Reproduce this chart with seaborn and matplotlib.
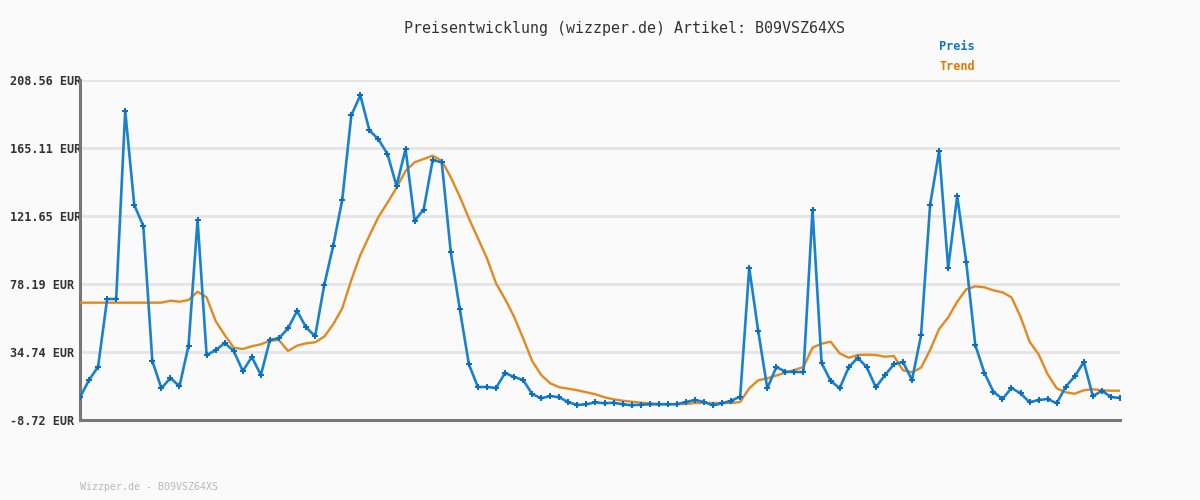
import numpy as np
import pandas as pd
import matplotlib
matplotlib.use("Agg")
import matplotlib.pyplot as plt
import seaborn as sns

title = "Preisentwicklung (wizzper.de) Artikel: B09VSZ64XS"
footer = "Wizzper.de - B09VSZ64XS"
series_names = ["Preis", "Trend"]
y_ticks = [-8.72, 34.74, 78.19, 121.65, 165.11, 208.56]

preis = [5.78, 16.84, 25.34, 68.61, 68.61, 188.75, 128.68, 115.26, 28.98, 11.54,
         18.12, 12.82, 38.76, 119.09, 32.82, 35.82, 40.49, 35.37, 22.59, 31.54,
         20.04, 42.40, 43.49, 49.88, 60.94, 50.52, 44.77, 77.36, 102.67, 132.07,
         186.00, 198.78, 176.42, 170.66, 161.27, 140.82, 164.46, 118.64, 125.80, 157.44,
         155.97, 98.45, 62.02, 26.88, 12.37, 12.37, 11.73, 21.32, 18.76, 16.84,
         7.89, 5.15, 6.62, 5.78, 2.59, 0.87, 1.31, 2.59, 1.95, 2.34,
         1.31, 0.67, 1.06, 1.31, 1.31, 1.31, 1.31, 2.78, 4.06, 2.78,
         0.67, 1.95, 3.61, 6.17, 88.42, 47.96, 11.54, 25.15, 22.15, 21.95,
         21.95, 125.48, 27.71, 16.39, 11.54, 24.96, 31.09, 24.96, 12.18, 19.85,
         26.88, 28.35, 16.84, 45.41, 128.68, 163.19, 88.42, 134.43, 92.06, 39.21,
         21.51, 9.37, 4.70, 11.73, 8.34, 2.59, 4.06, 4.70, 1.95, 12.56,
         19.21, 28.35, 6.43, 10.00, 5.98, 5.34]

trend = [66.26, 66.26, 66.26, 66.26, 66.26, 66.26, 66.26, 66.26, 66.26, 66.26,
         67.52, 66.88, 67.97, 73.27, 69.69, 54.55, 45.59, 37.49, 36.65, 38.40,
         39.66, 41.96, 42.40, 35.37, 38.76, 40.29, 40.94, 44.52, 52.44, 62.66,
         80.75, 96.72, 109.06, 121.06, 130.15, 139.74, 150.41, 155.97, 158.07, 160.18,
         157.00, 146.38, 134.00, 120.18, 107.40, 94.62, 78.64, 68.61, 57.29, 43.49,
         28.98, 20.04, 14.73, 12.18, 11.29, 10.27, 8.99, 7.70, 5.78, 4.50,
         3.61, 2.97, 2.34, 1.95, 1.50, 1.50, 1.50, 1.50, 2.14, 2.14,
         2.14, 2.14, 2.14, 2.78, 11.54, 16.65, 17.93, 19.70, 21.51, 23.23,
         25.15, 37.49, 40.04, 41.32, 33.90, 31.09, 32.82, 33.01, 32.82, 31.73,
         32.18, 23.04, 21.76, 24.70, 36.01, 49.44, 56.80, 66.88, 74.80, 76.72,
         76.08, 74.16, 72.89, 69.69, 57.29, 41.32, 33.27, 20.49, 11.54, 8.99,
         8.09, 10.27, 10.91, 10.27, 10.00, 10.00]

idx = np.arange(len(preis))
df = pd.DataFrame({"idx": np.concatenate([idx, idx]),
                   "value": preis + trend,
                   "series": [series_names[0]] * len(preis) + [series_names[1]] * len(trend)})

sns.set_theme(style="white")
plt.rcParams["font.family"] = ["DejaVu Sans Mono", "DejaVu Sans"]

bg = "#fafafa"
blue = "#1a82cc"
orange = "#e2891f"

fig = plt.figure(figsize=(12, 5), dpi=100, facecolor=bg)
ax = fig.add_axes([80 / 1200, 1 - 420 / 500, 1040 / 1200, 340 / 500])
ax.set_facecolor(bg)

sns.lineplot(data=df[df.series == "Trend"], x="idx", y="value", ax=ax,
             color=orange, linewidth=1.7, legend=False, zorder=3)
sns.lineplot(data=df[df.series == "Preis"], x="idx", y="value", ax=ax,
             color=blue, linewidth=1.9, legend=False, marker="P",
             markersize=4.0, markeredgewidth=0, markerfacecolor="#0a6fc0", zorder=4)

ax.set_xlim(0, len(preis) - 1)
ax.set_ylim(y_ticks[0], y_ticks[-1])
ax.set_xticks([])
ax.set_yticks(y_ticks)
ax.set_yticklabels([f"{v:.2f} EUR" for v in y_ticks])
for lab in ax.get_yticklabels():
    lab.set_horizontalalignment("left")
    lab.set_fontweight("bold")
    lab.set_color("#333333")
    lab.set_fontsize(8.6)
ax.tick_params(axis="y", length=0, pad=50.4)
ax.set_xlabel("")
ax.set_ylabel("")
ax.grid(axis="y", color="#e4e4e4", linewidth=2.0, zorder=0)
ax.set_axisbelow(True)
for s in ["top", "right"]:
    ax.spines[s].set_visible(False)
for s in ["left", "bottom"]:
    ax.spines[s].set_color("#777777")
    ax.spines[s].set_linewidth(2.2)

fig.text(624 / 1200, 1 - 28 / 500, title, ha="center", va="center",
         fontsize=10.8, color="#333333")
fig.text(939 / 1200, 1 - 47 / 500, series_names[0], ha="left", va="center",
         fontsize=8.6, fontweight="bold", color="#0f78c8")
fig.text(939 / 1200, 1 - 67 / 500, series_names[1], ha="left", va="center",
         fontsize=8.6, fontweight="bold", color="#e07b00")
fig.text(80 / 1200, 1 - 487 / 500, footer, ha="left", va="center",
         fontsize=7.2, color="#b8b8b8")

fig.savefig("out.png", dpi=100, facecolor=bg)
